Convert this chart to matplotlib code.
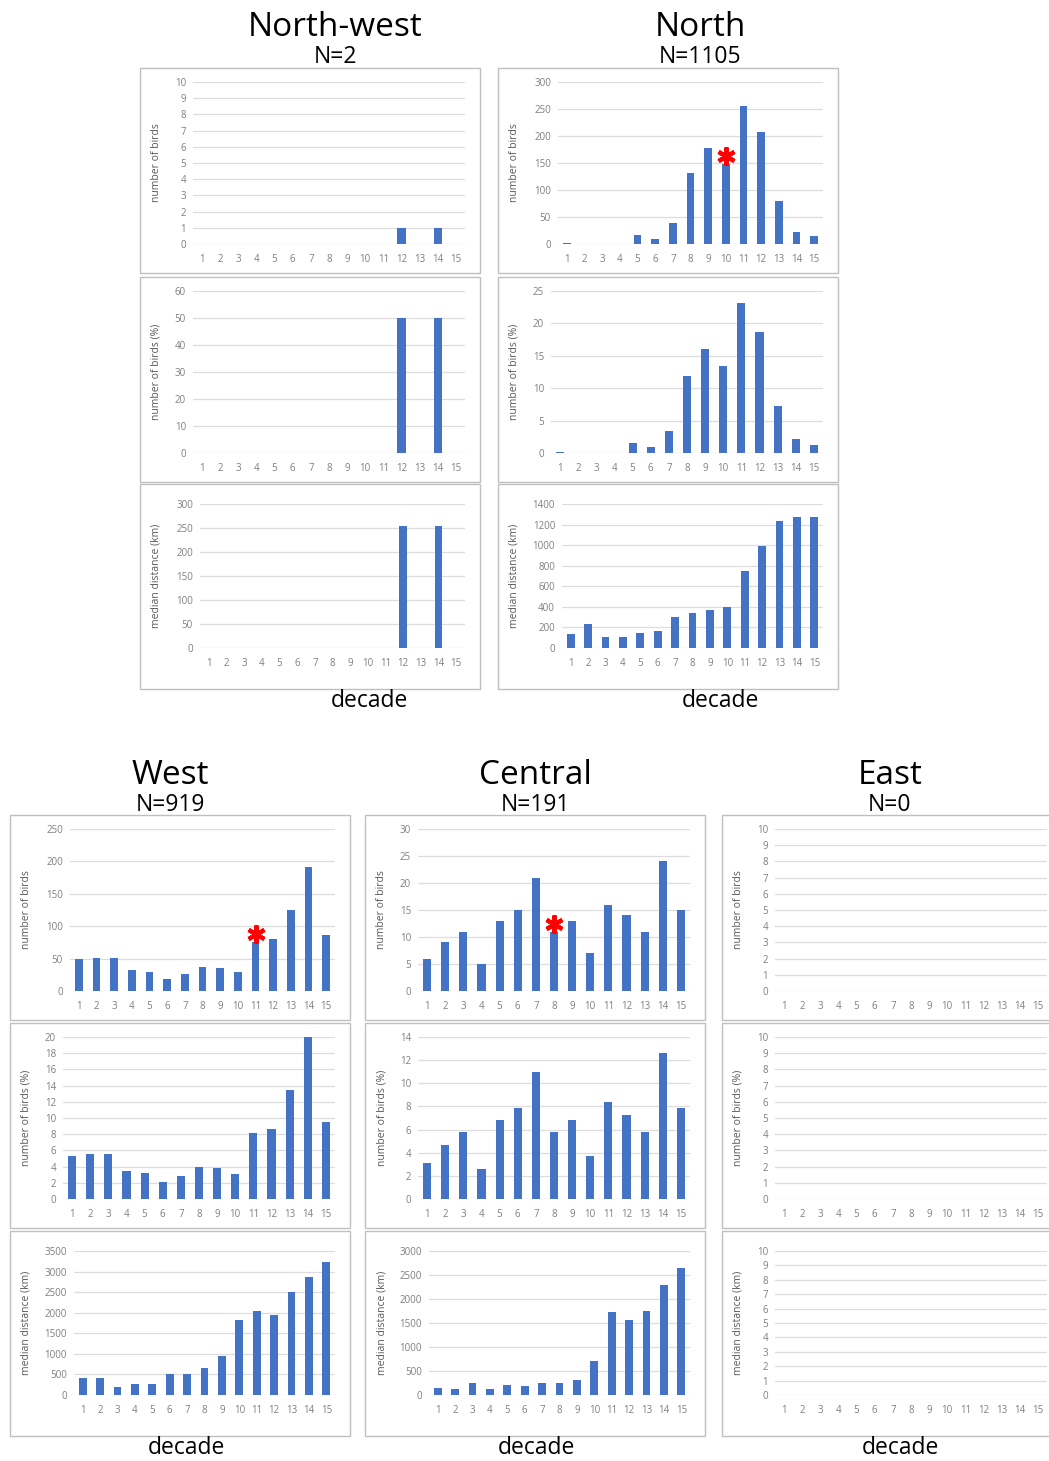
import matplotlib
matplotlib.use("Agg")
import matplotlib.pyplot as plt
from matplotlib.patches import Rectangle
from matplotlib.transforms import offset_copy

plt.rcParams['font.family'] = ['Open Sans', 'DejaVu Sans']

decades = list(range(1, 16))

# North-west
nw_count = [0, 0, 0, 0, 0, 0, 0, 0, 0, 0, 0, 1, 0, 1, 0]
nw_pct = [0, 0, 0, 0, 0, 0, 0, 0, 0, 0, 0, 50, 0, 50, 0]
nw_dist = [0, 0, 0, 0, 0, 0, 0, 0, 0, 0, 0, 255, 0, 255, 0]

# North
n_count = [2, 0, 0, 0, 17, 10, 38, 132, 178, 149, 255, 207, 80, 23, 14]
n_pct = [0.2, 0, 0, 0, 1.5, 0.9, 3.4, 11.9, 16.1, 13.5, 23.1, 18.7, 7.2, 2.1, 1.3]
n_dist = [140, 235, 110, 110, 145, 165, 300, 345, 370, 395, 750, 990, 1230, 1275, 1270]

# West
w_count = [49, 51, 51, 32, 30, 18, 27, 37, 36, 29, 75, 80, 125, 192, 87]
w_pct = [5.3, 5.5, 5.5, 3.4, 3.2, 2.1, 2.9, 3.9, 3.8, 3.1, 8.2, 8.7, 13.5, 20.0, 9.5]
w_dist = [420, 410, 200, 260, 260, 510, 510, 660, 960, 1830, 2040, 1950, 2510, 2860, 3240]

# Central
c_count = [6, 9, 11, 5, 13, 15, 21, 11, 13, 7, 16, 14, 11, 24, 15]
c_pct = [3.1, 4.7, 5.8, 2.6, 6.8, 7.9, 11.0, 5.8, 6.8, 3.7, 8.4, 7.3, 5.8, 12.6, 7.9]
c_dist = [150, 120, 240, 120, 200, 180, 240, 240, 320, 700, 1730, 1560, 1740, 2300, 2650]

# East (no birds)
e_zero = [0] * 15

W, H = 1049, 1461
fig = plt.figure(figsize=(W / 100, H / 100), dpi=100)

BLUE = '#4472C4'
LABELS = ['number of birds', 'number of birds (%)', 'median distance (km)']


def panel(x0, y0, values, ymax, step, ylabel, dist=False, star=None):
    w, h = 340, 205
    fig.add_artist(Rectangle((x0 / W, 1 - (y0 + h) / H), w / W, h / H,
                             transform=fig.transFigure, fill=False,
                             edgecolor='#BFBFBF', linewidth=1.0))
    ndig = len(str(ymax))
    left = {2: 53, 3: 60, 4: 64}[ndig]
    top, bottom = (20, 41) if dist else (14, 29)
    aw = w - left - 15
    ah = h - top - bottom
    ax = fig.add_axes([(x0 + left) / W, 1 - (y0 + h - bottom) / H, aw / W, ah / H])
    ax.bar(decades, values, width=0.45, color=BLUE, zorder=3)
    ax.set_xlim(0.5, 15.5)
    ax.set_ylim(0, ymax)
    ax.set_yticks(range(0, ymax + 1, step))
    ax.set_xticks(decades)
    ax.grid(axis='y', color='#DDDDDD', linewidth=0.9, zorder=0)
    ax.set_axisbelow(True)
    for s in ax.spines.values():
        s.set_visible(False)
    ax.tick_params(length=0, labelsize=7, labelcolor='#7F7F7F')
    ax.tick_params(axis='x', pad=7)
    ax.tick_params(axis='y', pad=5)
    ax.set_ylabel(ylabel, fontsize=7.5, color='#595959')
    ax.yaxis.set_label_coords((22 - left) / aw, 0.5)
    if star is not None:
        tr = offset_copy(ax.transData, fig=fig, x=0, y=8, units='dots')
        ax.plot(star, values[star - 1], marker=(6, 2, 0), markersize=13,
                markeredgewidth=3, color='#FF0000', transform=tr,
                zorder=5, clip_on=False)
    return ax


rows_top = [68, 277, 484]
rows_bot = [815, 1023, 1231]

regions = [
    ('North-west', 'N=2', 140, rows_top, [nw_count, nw_pct, nw_dist],
     [(10, 1), (60, 10), (300, 50)], None),
    ('North', 'N=1105', 498, rows_top, [n_count, n_pct, n_dist],
     [(300, 50), (25, 5), (1400, 200)], 10),
    ('West', 'N=919', 10, rows_bot, [w_count, w_pct, w_dist],
     [(250, 50), (20, 2), (3500, 500)], 11),
    ('Central', 'N=191', 365, rows_bot, [c_count, c_pct, c_dist],
     [(30, 5), (14, 2), (3000, 500)], 8),
    ('East', 'N=0', 722, rows_bot, [e_zero, e_zero, e_zero],
     [(10, 1), (10, 1), (10, 1)], None),
]

title_pos = {'North-west': (335, 27), 'North': (700, 27), 'West': (170, 775),
             'Central': (535, 775), 'East': (890, 775)}
decade_pos = {'North-west': (369, 701), 'North': (720, 701), 'West': (186, 1448),
              'Central': (536, 1448), 'East': (900, 1448)}

for name, n_text, x0, rows, series, scales, star in regions:
    for i in range(3):
        ymax, step = scales[i]
        panel(x0, rows[i], series[i], ymax, step, LABELS[i],
              dist=(i == 2), star=star if i == 0 else None)
    tx, ty = title_pos[name]
    fig.text(tx / W, 1 - ty / H, name, fontsize=24, ha='center', va='center')
    fig.text(tx / W, 1 - (ty + 30) / H, n_text, fontsize=16.5, ha='center', va='center')
    dx, dy = decade_pos[name]
    fig.text(dx / W, 1 - dy / H, 'decade', fontsize=16.5, ha='center', va='center')

fig.savefig('out.png', dpi=100, facecolor='white')
